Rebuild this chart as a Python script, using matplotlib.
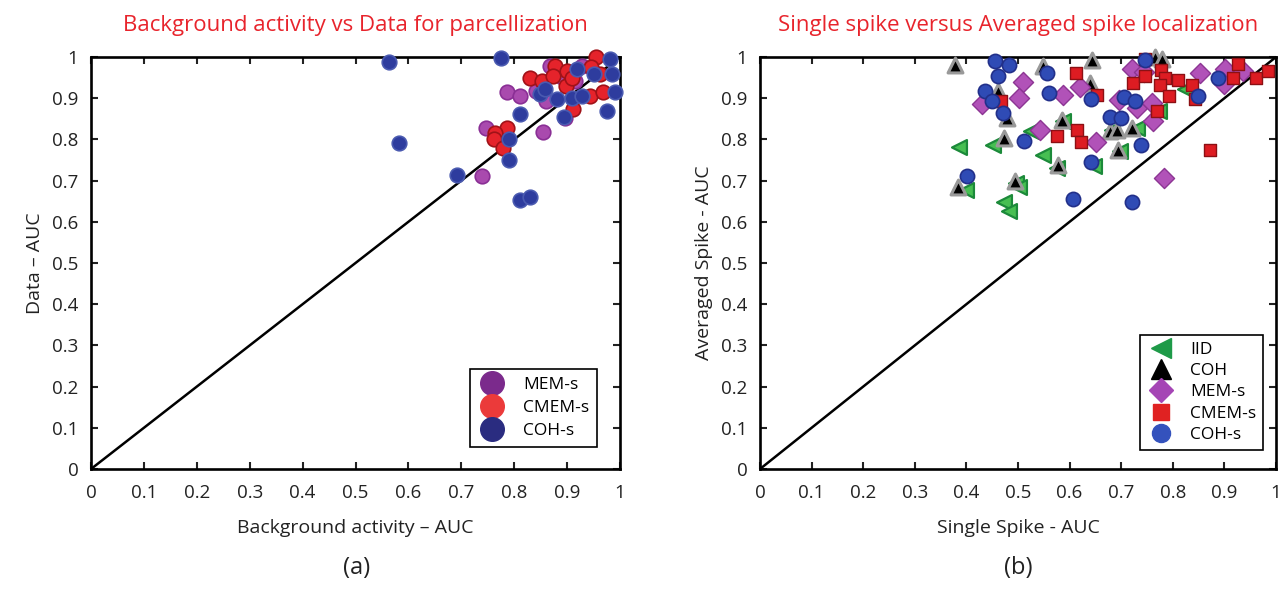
import matplotlib
matplotlib.use('Agg')
import matplotlib.pyplot as plt
from matplotlib.lines import Line2D

plt.rcParams['font.family'] = ['Open Sans', 'DejaVu Sans']

# ---- panel (a): background activity vs data ----
mem_a_x = [0.786, 0.811, 0.854, 0.739, 0.746, 0.868, 0.842, 0.861, 0.890, 0.896, 0.915, 0.928]
mem_a_y = [0.915, 0.905, 0.818, 0.711, 0.828, 0.979, 0.918, 0.894, 0.952, 0.853, 0.942, 0.979]

cmem_a_x = [0.954, 0.877, 0.899, 0.946, 0.962, 0.830, 0.852, 0.874, 0.898, 0.909, 0.943, 0.967,
            0.912, 0.786, 0.764, 0.761, 0.778]
cmem_a_y = [1.000, 0.979, 0.967, 0.975, 0.958, 0.950, 0.942, 0.954, 0.930, 0.950, 0.905, 0.915,
            0.874, 0.828, 0.816, 0.800, 0.779]

coh_a_x = [0.563, 0.775, 0.583, 0.691, 0.811, 0.830, 0.791, 0.791, 0.811, 0.975, 0.895, 0.991,
           0.985, 0.981, 0.918, 0.950, 0.849, 0.858, 0.880, 0.909, 0.928]
coh_a_y = [0.987, 0.998, 0.791, 0.714, 0.653, 0.661, 0.751, 0.801, 0.861, 0.869, 0.855, 0.914,
           0.958, 0.995, 0.971, 0.958, 0.910, 0.922, 0.899, 0.901, 0.905]

# ---- panel (b): single spike vs averaged spike ----
iid_x = [0.386, 0.452, 0.399, 0.473, 0.483, 0.497, 0.525, 0.549, 0.647, 0.698, 0.730, 0.588,
         0.682, 0.774, 0.824, 0.576, 0.501]
iid_y = [0.782, 0.787, 0.676, 0.649, 0.627, 0.694, 0.820, 0.763, 0.736, 0.771, 0.828, 0.844,
         0.822, 0.869, 0.922, 0.730, 0.685]

coh_x = [0.378, 0.384, 0.472, 0.462, 0.478, 0.494, 0.643, 0.765, 0.780, 0.549, 0.640, 0.585,
         0.678, 0.691, 0.720, 0.694, 0.578]
coh_y = [0.980, 0.685, 0.804, 0.918, 0.853, 0.698, 0.993, 1.000, 0.995, 0.979, 0.938, 0.848,
         0.820, 0.824, 0.828, 0.775, 0.738]

mem_b_x = [0.430, 0.509, 0.502, 0.587, 0.620, 0.720, 0.853, 0.901, 0.937, 0.899, 0.696, 0.731,
           0.759, 0.761, 0.543, 0.651, 0.782, 0.744]
mem_b_y = [0.885, 0.940, 0.901, 0.907, 0.926, 0.971, 0.962, 0.971, 0.967, 0.934, 0.896, 0.877,
           0.889, 0.844, 0.824, 0.793, 0.706, 0.963]

cmem_b_x = [0.468, 0.612, 0.654, 0.722, 0.746, 0.778, 0.784, 0.811, 0.838, 0.775, 0.792, 0.769,
            0.927, 0.917, 0.961, 0.985, 0.843, 0.615, 0.622, 0.576, 0.873, 0.746]
cmem_b_y = [0.892, 0.961, 0.907, 0.938, 0.954, 0.969, 0.948, 0.943, 0.933, 0.931, 0.905, 0.870,
            0.983, 0.950, 0.949, 0.967, 0.899, 0.822, 0.794, 0.809, 0.775, 0.995]

cohs_b_x = [0.455, 0.483, 0.462, 0.436, 0.450, 0.470, 0.401, 0.512, 0.557, 0.560, 0.641, 0.705,
            0.727, 0.678, 0.700, 0.738, 0.641, 0.606, 0.720, 0.746, 0.887, 0.849]
cohs_b_y = [0.991, 0.980, 0.953, 0.918, 0.894, 0.863, 0.710, 0.797, 0.962, 0.912, 0.899, 0.904,
            0.894, 0.855, 0.851, 0.787, 0.746, 0.655, 0.649, 0.993, 0.950, 0.905]

ticks = [0, 0.1, 0.2, 0.3, 0.4, 0.5, 0.6, 0.7, 0.8, 0.9, 1]
tick_labels = ['0', '0.1', '0.2', '0.3', '0.4', '0.5', '0.6', '0.7', '0.8', '0.9', '1']

fig = plt.figure(figsize=(12.88, 5.92), dpi=100)
ax1 = fig.add_axes([91 / 1288, 123 / 592, 529 / 1288, 412 / 592])
ax2 = fig.add_axes([760 / 1288, 123 / 592, 516 / 1288, 412 / 592])


def style_axes(ax, title, xlabel, ylabel):
    ax.plot([0, 1], [0, 1], color='black', lw=1.8, zorder=1)
    ax.set_xlim(0, 1)
    ax.set_ylim(0, 1)
    ax.set_xticks(ticks)
    ax.set_yticks(ticks)
    ax.set_xticklabels(tick_labels)
    ax.set_yticklabels(tick_labels)
    ax.tick_params(direction='in', top=True, right=True, length=5, width=1.5,
                   labelsize=13.5, colors='#222222')
    ax.tick_params(axis='x', pad=11)
    ax.tick_params(axis='y', pad=9)
    for sp in ax.spines.values():
        sp.set_linewidth(1.9)
        sp.set_color('black')
    ax.set_title(title, color='#e8242c', fontsize=16, pad=19)
    ax.set_xlabel(xlabel, fontsize=14, labelpad=12, color='#222222')
    ax.set_ylabel(ylabel, fontsize=14, labelpad=6, color='#222222')


# panel (a)
style_axes(ax1, 'Background activity vs Data for parcellization',
           'Background activity \u2013 AUC', 'Data \u2013 AUC')
ax1.scatter(mem_a_x, mem_a_y, s=110, c='#a94aae', edgecolors='#8a2f95', linewidths=1.2,
            clip_on=False, zorder=3)
ax1.scatter(cmem_a_x, cmem_a_y, s=110, c='#e5232b', edgecolors='#a01218', linewidths=1.2,
            clip_on=False, zorder=4)
ax1.scatter(coh_a_x, coh_a_y, s=110, c='#2e3c9e', edgecolors='#4a5ab0', linewidths=1.2,
            clip_on=False, zorder=5)

handles_a = [
    Line2D([], [], ls='none', marker='o', ms=17, mfc='#7b2a8c', mec='#7b2a8c'),
    Line2D([], [], ls='none', marker='o', ms=17, mfc='#eb3a3a', mec='#eb3a3a'),
    Line2D([], [], ls='none', marker='o', ms=17, mfc='#2a2c80', mec='#2a2c80'),
]
leg1 = ax1.legend(handles_a, ['MEM-s', 'CMEM-s', 'COH-s'], loc='lower right',
                  bbox_to_anchor=(0.957, 0.054), borderaxespad=0, fontsize=12.5,
                  fancybox=False, edgecolor='black', framealpha=1, handletextpad=1.0,
                  borderpad=0.45, labelspacing=0.4, handlelength=1.6)
leg1.get_frame().set_linewidth(1.2)

# panel (b)
style_axes(ax2, 'Single spike versus Averaged spike localization',
           'Single Spike - AUC', 'Averaged Spike - AUC')
ax2.scatter(iid_x, iid_y, s=115, marker='<', c='#47bf52', edgecolors='#1c8a3a', linewidths=1.6,
            clip_on=False, zorder=3)
ax2.scatter(coh_x, coh_y, s=115, marker='^', c='black', edgecolors='#999999', linewidths=2.2,
            clip_on=False, zorder=4)
ax2.scatter(mem_b_x, mem_b_y, s=105, marker='D', c='#b152b8', edgecolors='#8c3593', linewidths=1.0,
            clip_on=False, zorder=5)
ax2.scatter(cmem_b_x, cmem_b_y, s=85, marker='s', c='#dd1c22', edgecolors='#8c1014', linewidths=1.0,
            clip_on=False, zorder=6)
ax2.scatter(cohs_b_x, cohs_b_y, s=105, marker='o', c='#2f4bb5', edgecolors='#22308a', linewidths=1.2,
            clip_on=False, zorder=7)

handles_b = [
    Line2D([], [], ls='none', marker='<', ms=15, mfc='#1e9a48', mec='#1e9a48'),
    Line2D([], [], ls='none', marker='^', ms=14, mfc='black', mec='black'),
    Line2D([], [], ls='none', marker='D', ms=12, mfc='#a545b5', mec='#a545b5'),
    Line2D([], [], ls='none', marker='s', ms=11, mfc='#e02222', mec='#e02222'),
    Line2D([], [], ls='none', marker='o', ms=13, mfc='#3452bd', mec='#3452bd'),
]
leg2 = ax2.legend(handles_b, ['IID', 'COH', 'MEM-s', 'CMEM-s', 'COH-s'], loc='lower right',
                  bbox_to_anchor=(0.975, 0.046), borderaxespad=0, fontsize=12.5,
                  fancybox=False, edgecolor='black', framealpha=1, handletextpad=0.8,
                  borderpad=0.4, labelspacing=0.3, handlelength=1.7)
leg2.get_frame().set_linewidth(1.2)

fig.text(357 / 1288, 1 - 568 / 592, '(a)', fontsize=17, ha='center', va='center', color='#222222')
fig.text(1018 / 1288, 1 - 568 / 592, '(b)', fontsize=17, ha='center', va='center', color='#222222')

fig.savefig('out.png', dpi=100)
